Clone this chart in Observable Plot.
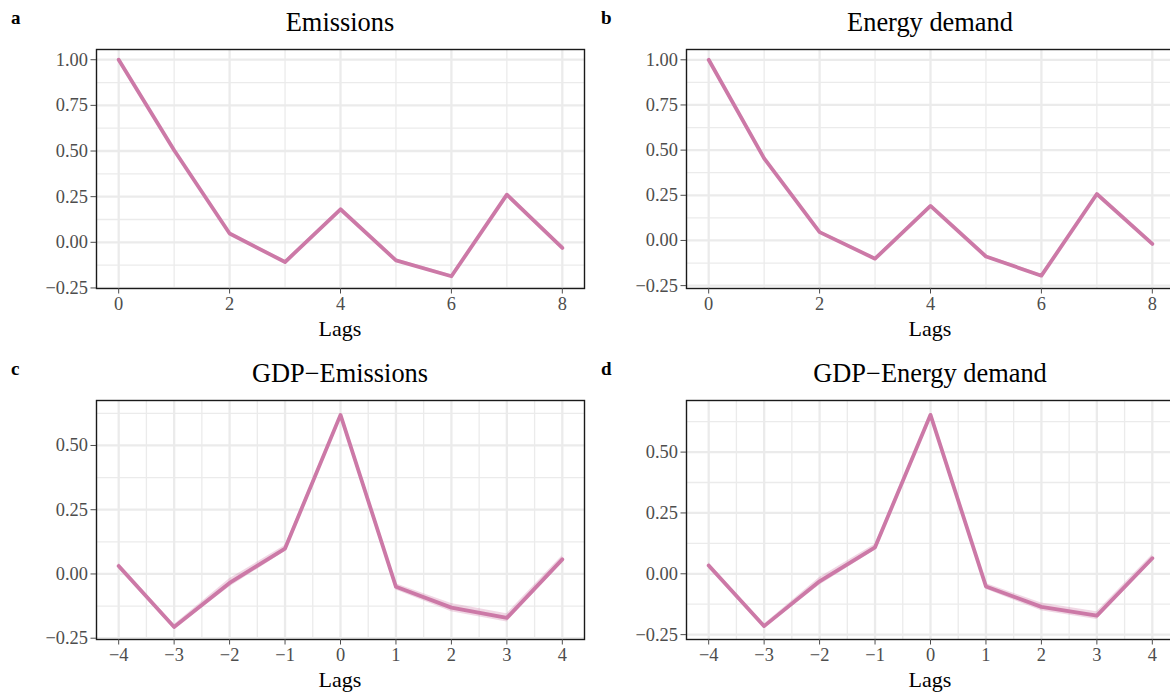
<!DOCTYPE html>
<html>
<head>
<meta charset="utf-8">
<script src="https://cdn.jsdelivr.net/npm/d3@7"></script>
<script src="https://cdn.jsdelivr.net/npm/@observablehq/plot@0.6"></script>
<style>
  html, body { margin: 0; padding: 0; background: #fff; overflow: hidden; }
  #root { position: relative; width: 1170px; height: 694px; overflow: hidden; background: #fff;
          font-family: "Liberation Serif", "Times New Roman", serif; }
  .panel { position: absolute; width: 600px; height: 345px; }
  .panel svg { max-width: none !important; width: 600px; height: 345px; font-family: "Liberation Serif", serif !important; }
  .panel svg text { font-family: "Liberation Serif", serif; }
  .lbl { position: absolute; line-height: 1; white-space: nowrap; color: #000; }
  .title { font-size: 26.4px; transform: translateX(-50%); }
  .xlab { font-size: 22px; transform: translateX(-50%); }
  .tag { font-size: 19px; font-weight: bold; }
</style>
</head>
<body>
<div id="root"></div>
<script>
// ---- data ----
const lagsACF = [0, 1, 2, 3, 4, 5, 6, 7, 8];
const lagsCCF = [-4, -3, -2, -1, 0, 1, 2, 3, 4];

const emissionsACF   = [1.000, 0.504, 0.048, -0.108, 0.181, -0.099, -0.186, 0.261, -0.031];
const emissionsLower = [1.000, 0.500, 0.040, -0.116, 0.177, -0.108, -0.194, 0.257, -0.036];
const emissionsUpper = [1.000, 0.508, 0.056, -0.100, 0.185, -0.090, -0.178, 0.265, -0.026];

const energyACF   = [1.000, 0.454, 0.046, -0.101, 0.191, -0.089, -0.195, 0.257, -0.019];
const energyLower = [1.000, 0.450, 0.038, -0.109, 0.187, -0.098, -0.203, 0.253, -0.024];
const energyUpper = [1.000, 0.458, 0.054, -0.093, 0.195, -0.080, -0.187, 0.261, -0.014];

const gdpEmissionsCCF   = [0.031, -0.206, -0.035, 0.099, 0.619, -0.050, -0.131, -0.171, 0.057];
const gdpEmissionsLower = [0.019, -0.214, -0.051, 0.087, 0.615, -0.062, -0.147, -0.187, 0.043];
const gdpEmissionsUpper = [0.043, -0.198, -0.019, 0.111, 0.623, -0.038, -0.115, -0.155, 0.071];

const gdpEnergyCCF   = [0.034, -0.215, -0.031, 0.109, 0.653, -0.052, -0.136, -0.172, 0.064];
const gdpEnergyLower = [0.022, -0.223, -0.047, 0.097, 0.649, -0.064, -0.152, -0.188, 0.050];
const gdpEnergyUpper = [0.046, -0.207, -0.015, 0.121, 0.657, -0.040, -0.120, -0.156, 0.078];

const xTicksACF = [0, 2, 4, 6, 8];
const xMinorACF = [1, 3, 5, 7];
const xTicksCCF = [-4, -3, -2, -1, 0, 1, 2, 3, 4];
const xMinorCCF = [-3.5, -2.5, -1.5, -0.5, 0.5, 1.5, 2.5, 3.5];
const yTicksACF = [-0.25, 0, 0.25, 0.5, 0.75, 1];
const yMinorACF = [-0.125, 0.125, 0.375, 0.625, 0.875];
const yTicksCCF = [-0.25, 0, 0.25, 0.5];
const yMinorCCF = [-0.125, 0.125, 0.375, 0.625];

const panels = [
  {tag: "a", title: "Emissions", left: 0, top: 0, lags: lagsACF, v: emissionsACF, lo: emissionsLower, hi: emissionsUpper,
   xDomain: [-0.4, 8.4], yDomain: [-0.253, 1.056], xTicks: xTicksACF, xMinor: xMinorACF, yTicks: yTicksACF, yMinor: yMinorACF},
  {tag: "b", title: "Energy demand", left: 590, top: 0, lags: lagsACF, v: energyACF, lo: energyLower, hi: energyUpper,
   xDomain: [-0.4, 8.4], yDomain: [-0.266, 1.057], xTicks: xTicksACF, xMinor: xMinorACF, yTicks: yTicksACF, yMinor: yMinorACF},
  {tag: "c", title: "GDP\u2212Emissions", left: 0, top: 351, lags: lagsCCF, v: gdpEmissionsCCF, lo: gdpEmissionsLower, hi: gdpEmissionsUpper,
   xDomain: [-4.4, 4.4], yDomain: [-0.255, 0.675], xTicks: xTicksCCF, xMinor: xMinorCCF, yTicks: yTicksCCF, yMinor: yMinorCCF},
  {tag: "d", title: "GDP\u2212Energy demand", left: 590, top: 351, lags: lagsCCF, v: gdpEnergyCCF, lo: gdpEnergyLower, hi: gdpEnergyUpper,
   xDomain: [-4.4, 4.4], yDomain: [-0.270, 0.712], xTicks: xTicksCCF, xMinor: xMinorCCF, yTicks: yTicksCCF, yMinor: yMinorCCF}
];

const root = document.getElementById("root");
const col = "#CC79A7";
const gridCol = "#ebebeb";
const serif = "Liberation Serif";

function makePanel(p) {
  const data = p.lags.map((l, i) => ({lag: l, v: p.v[i], lo: p.lo[i], hi: p.hi[i]}));
  return Plot.plot({
    width: 600, height: 345,
    marginLeft: 96, marginRight: 16, marginTop: 49, marginBottom: 57,
    x: {domain: p.xDomain},
    y: {domain: p.yDomain},
    style: {fontFamily: serif, background: "transparent", overflow: "visible", maxWidth: "none"},
    marks: [
      Plot.gridX(p.xMinor, {stroke: gridCol, strokeOpacity: 1, strokeWidth: 1.3}),
      Plot.gridY(p.yMinor, {stroke: gridCol, strokeOpacity: 1, strokeWidth: 1.3}),
      Plot.gridX(p.xTicks, {stroke: gridCol, strokeOpacity: 1, strokeWidth: 2.3}),
      Plot.gridY(p.yTicks, {stroke: gridCol, strokeOpacity: 1, strokeWidth: 2.3}),
      Plot.areaY(data, {x: "lag", y1: "lo", y2: "hi", fill: col, fillOpacity: 0.3}),
      Plot.lineY(data, {x: "lag", y: "v", stroke: col, strokeWidth: 3.8}),
      Plot.frame({stroke: "#1a1a1a", strokeWidth: 1.4}),
      Plot.axisX(p.xTicks, {tickFormat: d3.format("d"), tickSize: 5.5, tickPadding: 3, fontSize: 18.4, fontFamily: serif, color: "#4d4d4d", label: null}),
      Plot.axisY(p.yTicks, {tickFormat: d3.format(".2f"), tickSize: 5.5, tickPadding: 3, fontSize: 18.4, fontFamily: serif, color: "#4d4d4d", label: null})
    ]
  });
}

for (const p of panels) {
  const wrap = document.createElement("div");
  wrap.className = "panel";
  wrap.style.left = p.left + "px";
  wrap.style.top = p.top + "px";
  wrap.appendChild(makePanel(p));
  root.appendChild(wrap);

  const cx = p.left + 96 + (600 - 96 - 16) / 2;
  const t = document.createElement("div");
  t.className = "lbl title";
  t.textContent = p.title;
  t.style.left = cx + "px";
  t.style.top = (p.top + 9) + "px";
  root.appendChild(t);

  const xl = document.createElement("div");
  xl.className = "lbl xlab";
  xl.textContent = "Lags";
  xl.style.left = cx + "px";
  xl.style.top = (p.top + 318) + "px";
  root.appendChild(xl);

  const g = document.createElement("div");
  g.className = "lbl tag";
  g.textContent = p.tag;
  g.style.left = (p.left + 11) + "px";
  g.style.top = (p.top + 8) + "px";
  root.appendChild(g);
}
</script>
</body>
</html>
